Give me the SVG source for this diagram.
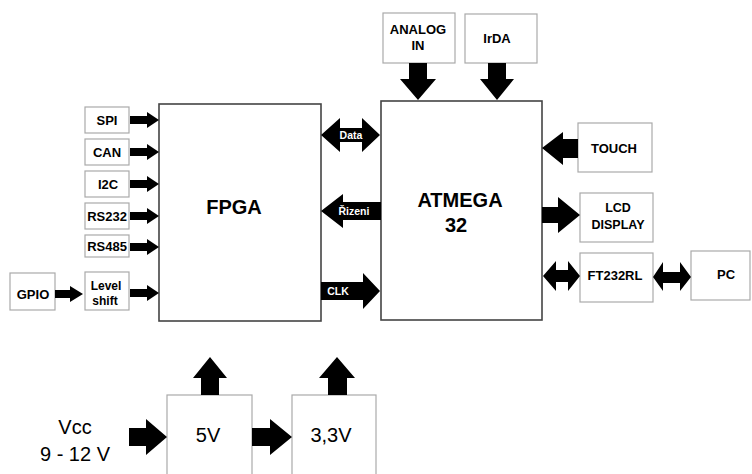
<svg xmlns="http://www.w3.org/2000/svg" width="752" height="474" viewBox="0 0 752 474">
<style>
.box{fill:#fff;stroke:#aaa;stroke-width:1.2}
.main{fill:#fff;stroke:#444;stroke-width:1.6}
.lbl{font-family:"Liberation Sans",Arial,sans-serif;font-weight:bold;font-size:13px;fill:#000;text-anchor:middle}
.big{font-family:"Liberation Sans",Arial,sans-serif;font-weight:bold;font-size:20px;fill:#000;text-anchor:middle}
.pw{font-family:"Liberation Sans",Arial,sans-serif;font-size:20px;fill:#000;text-anchor:middle}
.wt{font-family:"Liberation Sans",Arial,sans-serif;font-weight:bold;font-size:10.5px;fill:#fff;text-anchor:middle}
.arr{fill:#000}
</style>
<rect width="752" height="474" fill="#fff"/>
<g id="fpga"><rect class="main" x="159" y="104" width="162" height="217"/><text class="big" x="234" y="214">FPGA</text></g>
<g id="atmega"><rect class="main" x="381" y="101" width="161" height="219"/><text class="big" x="460" y="207">ATMEGA</text><text class="big" x="456" y="232">32</text></g>
<g id="spi"><rect class="box" x="85" y="107" width="44" height="26"/><text class="lbl" x="107" y="125">SPI</text></g>
<g id="can"><rect class="box" x="85" y="139" width="44" height="26"/><text class="lbl" x="107" y="157">CAN</text></g>
<g id="i2c"><rect class="box" x="85" y="171" width="44" height="26"/><text class="lbl" x="108" y="189">I2C</text></g>
<g id="rs232"><rect class="box" x="85" y="203" width="44" height="26"/><text class="lbl" x="107" y="221">RS232</text></g>
<g id="rs485"><rect class="box" x="85" y="235" width="44" height="22"/><text class="lbl" x="107" y="251">RS485</text></g>
<g id="levelshift"><rect class="box" x="85" y="272" width="44" height="38"/><text class="lbl" x="106" y="290" style="font-size:12px">Level</text><text class="lbl" x="105" y="305" style="font-size:12px">shift</text></g>
<g id="gpio"><rect class="box" x="10" y="273" width="45" height="37"/><text class="lbl" x="33" y="299">GPIO</text></g>
<g id="analog"><rect class="box" x="383" y="13" width="72" height="50"/><text class="lbl" x="418" y="34">ANALOG</text><text class="lbl" x="418" y="50">IN</text></g>
<g id="irda"><rect class="box" x="465" y="14" width="72" height="49"/><text class="lbl" x="497" y="43">IrDA</text></g>
<g id="touch"><rect class="box" x="578" y="123" width="74" height="49"/><text class="lbl" x="614" y="153">TOUCH</text></g>
<g id="lcd"><rect class="box" x="580" y="193" width="73" height="49"/><text class="lbl" x="618" y="212" style="font-size:12.5px">LCD</text><text class="lbl" x="618" y="229" style="font-size:12.5px">DISPLAY</text></g>
<g id="ft232rl"><rect class="box" x="580" y="253" width="73" height="49"/><text class="lbl" x="615" y="280">FT232RL</text></g>
<g id="pc"><rect class="box" x="691" y="251" width="59" height="49"/><text class="lbl" x="726" y="279">PC</text></g>
<g id="v5"><rect class="box" x="167" y="395" width="85" height="85"/><text class="pw" x="208" y="442">5V</text></g>
<g id="v33"><rect class="box" x="292" y="395" width="84" height="85"/><text class="pw" x="331" y="442">3,3V</text></g>
<g id="vcc"><text class="pw" x="75" y="434">Vcc</text><text class="pw" x="75" y="461">9 - 12 V</text></g>
<g id="connectors">
<path class="arr" d="M130,116H147V112L159,120L147,128V124H130Z"/>
<path class="arr" d="M130,148H147V144L159,152L147,160V156H130Z"/>
<path class="arr" d="M130,180H147V176L159,184L147,192V188H130Z"/>
<path class="arr" d="M130,212H147V208L159,216L147,224V220H130Z"/>
<path class="arr" d="M130,243H147V239L159,247L147,255V251H130Z"/>
<path class="arr" d="M130,289H147V285L159,293L147,301V297H130Z"/>
<path class="arr" d="M55,290H70V286L83,294L70,302V298H55Z"/>
<path class="arr" d="M321,135L340,118V128H362V118L380,135L362,152V142H340V152Z"/>
<text class="wt" x="351" y="139">Data</text>
<path class="arr" d="M321,211L343,194V202H381V220H343V228Z"/>
<text class="wt" x="354" y="215">Řizeni</text>
<path class="arr" d="M321,282H363V273L380,291L363,309V300H321Z"/>
<text class="wt" x="338" y="295">CLK</text>
<path class="arr" d="M409,63H427V79H436L418,100L400,79H409Z"/>
<path class="arr" d="M488,63H506V79H514L497,100L480,79H488Z"/>
<path class="arr" d="M542,148L563,132V139H578V158H563V165Z"/>
<path class="arr" d="M542,207H558V197L580,215L558,233V223H542Z"/>
<path class="arr" d="M543,276L556,261V270H568V261L580,276L568,291V282H556V291Z"/>
<path class="arr" d="M653,277L663,262V272H680V262L691,277L680,291V283H663V291Z"/>
<path class="arr" d="M201,395V378H193L210,357L227,378H219V395Z"/>
<path class="arr" d="M328,395V378H319L337,357L355,378H347V395Z"/>
<path class="arr" d="M129,428H146V419L167,437L146,455V446H129Z"/>
<path class="arr" d="M252,428H270V419L292,437L270,455V446H252Z"/>
</g>
</svg>
